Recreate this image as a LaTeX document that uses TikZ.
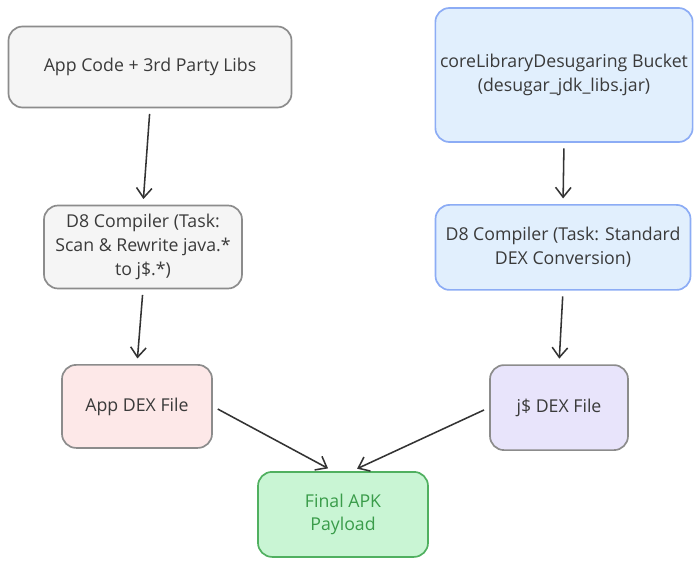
\documentclass[tikz,border=0pt]{standalone}
\usepackage{fontspec}
\setmainfont{Open Sans}
\usepackage{xcolor}
\usepackage{tikz}
\usetikzlibrary{arrows.meta, positioning}
\definecolor{inkgray}{RGB}{58,58,58}
\definecolor{greyedge}{RGB}{140,140,140}
\definecolor{greyfill}{RGB}{245,245,245}
\definecolor{blueedge}{RGB}{140,172,245}
\definecolor{bluefill}{RGB}{225,239,253}
\definecolor{pinkfill}{RGB}{253,232,232}
\definecolor{lilacfill}{RGB}{232,228,251}
\definecolor{greenedge}{RGB}{80,176,96}
\definecolor{greenfill}{RGB}{201,245,212}
\definecolor{greentext}{RGB}{58,156,74}
\tikzset{
  box/.style={rectangle, draw=greyedge, fill=greyfill, line width=1.2pt,
              rounded corners=10pt, align=center, text=inkgray,
              font=\fontsize{12.6}{16.8}\selectfont},
  bluebox/.style={box, draw=blueedge, fill=bluefill},
  arr/.style={-{Straight Barb[length=7pt, width=11pt]}, line width=1.1pt,
              color=black!80, shorten >=4pt, shorten <=4pt}
}
\begin{document}
\begin{tikzpicture}
  \useasboundingbox (0,0) rectangle (17.5,-14.175);

  % left column
  \node[box, minimum width=7.075cm, minimum height=2.025cm]
    (code) at (3.75,-1.675) {App Code + 3rd Party Libs};
  \node[box, minimum width=4.95cm, minimum height=2.075cm]
    (d8scan) at (3.575,-6.175) {D8 Compiler (Task:\\Scan \& Rewrite java.*\\to j\$.*)};
  \node[box, fill=pinkfill, minimum width=3.75cm, minimum height=2.075cm]
    (appdex) at (3.425,-10.16) {App DEX File};

  % right column
  \node[bluebox, minimum width=6.375cm, minimum height=3.35cm]
    (bucket) at (14.1,-1.875) {coreLibraryDesugaring Bucket\\(desugar\_jdk\_libs.jar)};
  \node[bluebox, minimum width=6.375cm, minimum height=2.125cm]
    (d8dex) at (14.075,-6.185) {D8 Compiler (Task: Standard\\DEX Conversion)};
  \node[box, fill=lilacfill, minimum width=3.45cm, minimum height=2.125cm]
    (jdex) at (13.975,-10.19) {j\$ DEX File};

  % output
  \node[box, draw=greenedge, fill=greenfill, text=greentext,
        minimum width=4.25cm, minimum height=2.125cm]
    (apk) at (8.575,-12.86) {Final APK\\Payload};

  % arrows
  \draw[arr] (code.south) -- (d8scan.north);
  \draw[arr] (d8scan.south) -- (appdex.north);
  \draw[arr] (bucket.south) -- (d8dex.north);
  \draw[arr] (d8dex.south) -- (jdex.north);
  \draw[arr] (appdex.east) -- ([xshift=-0.25cm]apk.north);
  \draw[arr] (jdex.west) -- ([xshift=0.225cm]apk.north);

\end{tikzpicture}
\end{document}
